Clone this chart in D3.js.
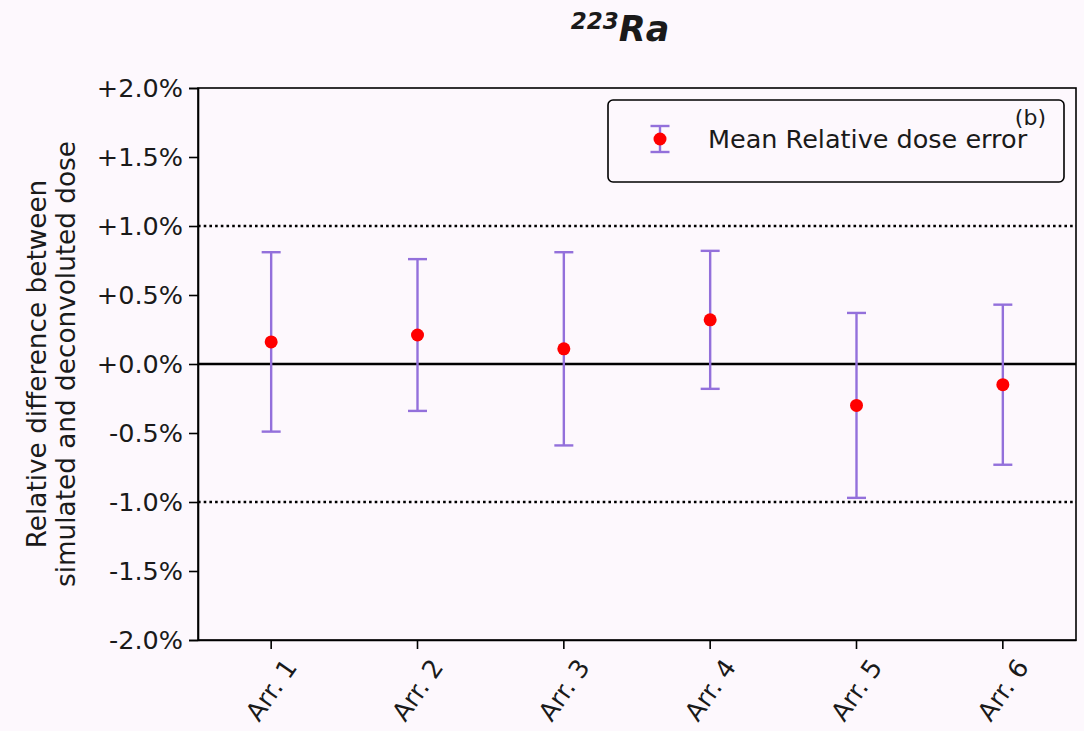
<!DOCTYPE html>
<html>
<head>
<meta charset="utf-8">
<script src="https://cdn.jsdelivr.net/npm/d3@7"></script>
<style>
  html, body { margin: 0; padding: 0; background: #fdf8fd; }
  svg { display: block; }
  text { font-family: "DejaVu Sans", sans-serif; fill: #1a1a1a; }
</style>
</head>
<body>
<svg id="chart" width="1084" height="731"></svg>
<script>
// Mean relative dose error per arrangement (percent) and its spread
const categories = ["Arr. 1", "Arr. 2", "Arr. 3", "Arr. 4", "Arr. 5", "Arr. 6"];
const meanError = [0.16, 0.21, 0.11, 0.32, -0.30, -0.15];
const errorSpread = [0.65, 0.55, 0.70, 0.50, 0.67, 0.58];
const yTicks = [-2.0, -1.5, -1.0, -0.5, 0.0, 0.5, 1.0, 1.5, 2.0];
const toleranceLines = [-1.0, 1.0];

const svg = d3.select("#chart");
const W = 1084, H = 731;
const m = { left: 198, right: 8, top: 88, bottom: 91 };
const fontSize = 25.5;

svg.append("rect").attr("width", W).attr("height", H).attr("fill", "#fdf8fd");

const x = d3.scaleBand()
  .domain(categories)
  .range([m.left, W - m.right])
  .paddingInner(0).paddingOuter(0);
const cx = d => x(d) + x.bandwidth() / 2;

const y = d3.scaleLinear().domain([-2, 2]).range([H - m.bottom, m.top]);

const fmt = v => (v >= 0 ? "+" : "") + v.toFixed(1) + "%";

// Title
const title = svg.append("text")
  .attr("x", 620).attr("y", 41)
  .attr("text-anchor", "middle")
  .style("font-weight", "bold").style("font-style", "italic");
title.append("tspan").attr("font-size", 23).attr("dy", -12).text("223");
title.append("tspan").attr("font-size", 35).attr("dy", 12).text("Ra");

// Reference lines
const plot = svg.append("g");
plot.selectAll("line.tol").data(toleranceLines).join("line")
  .attr("class", "tol")
  .attr("x1", m.left).attr("x2", W - m.right)
  .attr("y1", d => y(d)).attr("y2", d => y(d))
  .attr("stroke", "#000").attr("stroke-width", 2.4)
  .attr("stroke-dasharray", "2.6,3.1");
plot.append("line")
  .attr("x1", m.left).attr("x2", W - m.right)
  .attr("y1", y(0)).attr("y2", y(0))
  .attr("stroke", "#000").attr("stroke-width", 2.4);

// Axes
const yAxis = d3.axisLeft(y).tickValues(yTicks).tickFormat(fmt).tickSize(9).tickPadding(6);
const gy = svg.append("g").attr("transform", `translate(${m.left},0)`).call(yAxis);
gy.selectAll("text").attr("font-size", fontSize).style("font-family", "DejaVu Sans, sans-serif").attr("fill", "#1a1a1a");
gy.selectAll("line, path").attr("stroke", "#000").attr("stroke-width", 1.6);

const xAxis = d3.axisBottom(x).tickSize(9).tickSizeOuter(0);
const gx = svg.append("g").attr("transform", `translate(0,${H - m.bottom})`).call(xAxis);
gx.selectAll("line, path").attr("stroke", "#000").attr("stroke-width", 1.6);
gx.selectAll("text")
  .attr("font-size", fontSize).style("font-family", "DejaVu Sans, sans-serif").attr("fill", "#1a1a1a")
  .attr("text-anchor", "middle")
  .attr("dominant-baseline", "central")
  .attr("y", 0).attr("dy", 0)
  .attr("transform", "translate(0,50) rotate(-55)");

// Frame
svg.append("rect")
  .attr("x", m.left).attr("y", m.top)
  .attr("width", W - m.right - m.left).attr("height", H - m.bottom - m.top)
  .attr("fill", "none").attr("stroke", "#000").attr("stroke-width", 1.6);

// Y label
const yl = svg.append("text")
  .attr("transform", `translate(37,${(y(2) + y(-2)) / 2}) rotate(-90)`)
  .attr("text-anchor", "middle").attr("font-size", 26.3);
yl.append("tspan").attr("x", 0).attr("dy", "0.35em").text("Relative difference between");
yl.append("tspan").attr("x", 0).attr("dy", "1.1em").text("simulated and deconvoluted dose");

// Error bars
const errColor = "#9370db";
const capHalf = 9.5;
const bars = svg.append("g").selectAll("g").data(categories).join("g");
bars.append("line")
  .attr("x1", d => cx(d)).attr("x2", d => cx(d))
  .attr("y1", (d, i) => y(meanError[i] + errorSpread[i]))
  .attr("y2", (d, i) => y(meanError[i] - errorSpread[i]))
  .attr("stroke", errColor).attr("stroke-width", 2.4);
[1, -1].forEach(s => {
  bars.append("line")
    .attr("x1", d => cx(d) - capHalf).attr("x2", d => cx(d) + capHalf)
    .attr("y1", (d, i) => y(meanError[i] + s * errorSpread[i]))
    .attr("y2", (d, i) => y(meanError[i] + s * errorSpread[i]))
    .attr("stroke", errColor).attr("stroke-width", 2.4);
});
bars.append("circle")
  .attr("cx", d => cx(d)).attr("cy", (d, i) => y(meanError[i]))
  .attr("r", 6.5).attr("fill", "#ff0000");

// Legend
const lg = svg.append("g");
lg.append("rect")
  .attr("x", 608).attr("y", 100).attr("width", 456).attr("height", 82)
  .attr("rx", 5).attr("fill", "#fdf8fd").attr("stroke", "#000").attr("stroke-width", 1.6);
const lx = 660, ly = 139;
lg.append("line").attr("x1", lx).attr("x2", lx).attr("y1", ly - 13).attr("y2", ly + 13)
  .attr("stroke", errColor).attr("stroke-width", 2.4);
[-13, 13].forEach(o => lg.append("line")
  .attr("x1", lx - capHalf).attr("x2", lx + capHalf).attr("y1", ly + o).attr("y2", ly + o)
  .attr("stroke", errColor).attr("stroke-width", 2.4));
lg.append("circle").attr("cx", lx).attr("cy", ly).attr("r", 6.5).attr("fill", "#ff0000");
lg.append("text").attr("x", 708).attr("y", 148).attr("font-size", fontSize).text("Mean Relative dose error");

// Panel tag
svg.append("text").attr("x", 1046).attr("y", 125).attr("text-anchor", "end")
  .attr("font-size", 22).text("(b)");
</script>
</body>
</html>
